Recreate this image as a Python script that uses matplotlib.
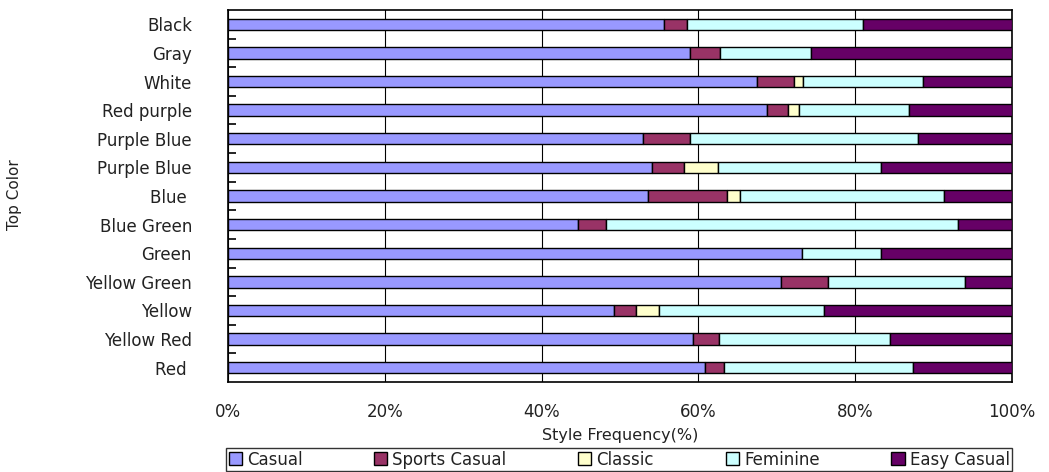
import matplotlib
matplotlib.use("Agg")
import matplotlib.pyplot as plt
from matplotlib.patches import Patch
import numpy as np

# Style share (%) per top colour, listed from top row to bottom row
colors_top = ["Black", "Gray", "White", "Red purple", "Purple Blue", "Purple Blue",
              "Blue ", "Blue Green", "Green", "Yellow Green", "Yellow", "Yellow Red", "Red "]
casual = [55.6, 58.9, 67.5, 68.7, 52.9, 54.1, 53.6, 44.7, 73.2, 70.5, 49.2, 59.3, 60.9]
sports_casual = [3.0, 3.8, 4.7, 2.7, 6.0, 4.0, 10.1, 3.5, 0.0, 6.0, 2.9, 3.3, 2.4]
classic = [0.0, 0.0, 1.2, 1.4, 0.0, 4.4, 1.6, 0.0, 0.0, 0.0, 2.9, 0.0, 0.0]
feminine = [22.4, 11.7, 15.3, 14.1, 29.1, 20.8, 26.0, 44.9, 10.1, 17.5, 21.0, 21.9, 24.1]
easy_casual = [19.0, 25.6, 11.3, 13.1, 12.0, 16.7, 8.7, 6.9, 16.7, 6.0, 24.0, 15.5, 12.6]

series_names = ["Casual", "Sports Casual", "Classic", "Feminine", "Easy Casual"]
series_vals = [casual, sports_casual, classic, feminine, easy_casual]
series_cols = ["#9999FF", "#993366", "#FFFFCC", "#CCFFFF", "#660066"]
x_ticks = [0, 20, 40, 60, 80, 100]
x_ticklabels = ["0%", "20%", "40%", "60%", "80%", "100%"]

plt.rcParams["font.family"] = ["DejaVu Sans"]
text_col = "#222222"

fig = plt.figure(figsize=(10.49, 4.72), dpi=100)
ax = fig.add_axes([228 / 1049, 1 - 382 / 472, 784 / 1049, 372 / 472])

y = np.arange(len(colors_top))
left = np.zeros(len(colors_top))
for name, vals, col in zip(series_names, series_vals, series_cols):
    vals = np.asarray(vals, dtype=float)
    lw = [1.0 if v > 0 else 0.0 for v in vals]
    ax.barh(y, vals, left=left, height=0.4, color=col, edgecolor="black",
            linewidth=lw, zorder=3)
    left += vals

ax.set_xlim(0, 100)
ax.set_ylim(len(colors_top) - 0.5, -0.5)

# x axis: gridlines at 20% steps, labels well below the frame
ax.set_xticks(x_ticks)
ax.set_xticklabels(x_ticklabels, fontsize=12, color=text_col)
ax.tick_params(axis="x", length=0, pad=15)
ax.grid(axis="x", color="black", linewidth=0.8, zorder=0)

# y axis: labels at row centres, short inward marks at row boundaries
ax.set_yticks(y)
ax.set_yticklabels(colors_top, fontsize=12, color=text_col)
ax.tick_params(axis="y", which="major", length=0, pad=26)
ax.set_yticks(np.arange(len(colors_top) - 1) + 0.5, minor=True)
ax.tick_params(axis="y", which="minor", direction="in", length=6, width=1.2, color="black")

for sp in ax.spines.values():
    sp.set_color("black")
    sp.set_linewidth(1.2)

ax.set_xlabel("Style Frequency(%)", fontsize=11.5, labelpad=5, color=text_col)
ax.set_ylabel("Top Color", fontsize=11, color=text_col)
ax.yaxis.set_label_coords(-206 / 784, 0.505)

handles = [Patch(facecolor=c, edgecolor="black", linewidth=1.0) for c in series_cols]
leg = fig.legend(handles, series_names, ncol=5, loc="lower left",
                 bbox_to_anchor=(226 / 1049, 0.002, 786 / 1049, 25 / 472),
                 mode="expand", fontsize=12, frameon=True, fancybox=False,
                 handlelength=0.8, handleheight=0.8, handletextpad=0.3,
                 columnspacing=0.8, borderpad=0.15, borderaxespad=0,
                 labelcolor=text_col)
leg.get_frame().set_edgecolor("black")
leg.get_frame().set_linewidth(1.0)

fig.savefig("out.png", dpi=100)
